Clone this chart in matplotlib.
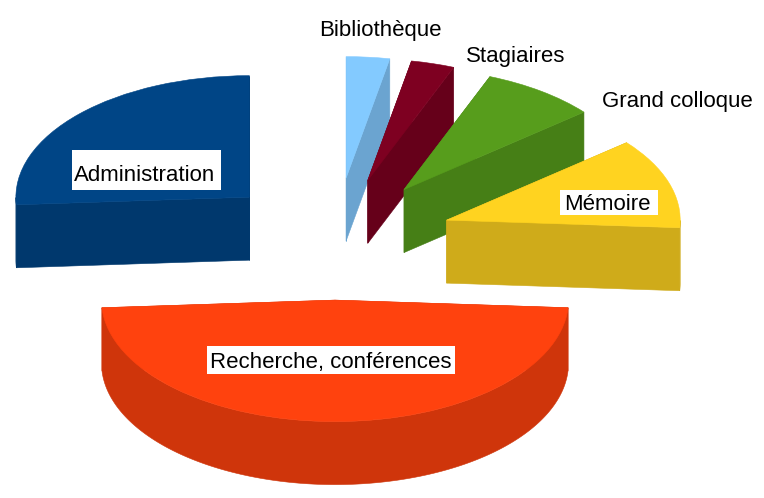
import numpy as np
import matplotlib
matplotlib.use("Agg")
import matplotlib.pyplot as plt
from matplotlib.patches import Rectangle
from matplotlib.transforms import Affine2D

plt.rcParams['font.family'] = ['Liberation Sans', 'DejaVu Sans']

# Shares (percent), clockwise from 12 o'clock
categories = ['Bibliothèque', 'Stagiaires', 'Grand colloque', 'Mémoire',
              'Recherche, conférences', 'Administration']
shares = [3.0, 3.0, 8.0, 12.0, 48.0, 26.0]

top_colors = ['#83caff', '#7e0021', '#579d1c', '#ffd320', '#ff420e', '#004586']
side_colors = ['#6ba4d0', '#66001a', '#467f16', '#cfab1a', '#cf350b', '#00386d']

# Back to front drawing order
draw_order = [0, 1, 2, 5, 3, 4]

W, H = 764, 498
cx, cy = 335, 239      # pie centre, pixels
rx, ry = 233.5, 121.5  # ellipse radii, pixels
depth = 63 / ry        # wall height in data units
explode = 0.503

fig = plt.figure(figsize=(W / 100, H / 100), dpi=100)
ax = fig.add_axes([0, 0, 1, 1])

wedges, _ = ax.pie(shares, explode=[explode] * len(shares), startangle=90,
                   counterclock=False, colors=top_colors,
                   wedgeprops=dict(linewidth=0.4))
# One data unit is rx pixels across and ry pixels down, this squashes the pie
ax.set_aspect('auto')
ax.set_xlim(-cx / rx, (W - cx) / rx)
ax.set_ylim(-(H - cy) / ry, cy / ry)
ax.set_axis_off()

for rank, i in enumerate(draw_order):
    w = wedges[i]
    w.set_edgecolor(top_colors[i])
    w.set_zorder(2 * rank + 2)
    x0, y0 = w.center
    side = dict(facecolor=side_colors[i], edgecolor=side_colors[i],
                linewidth=0.4, zorder=2 * rank + 1)
    # the two cut faces
    for a in (w.theta1, w.theta2):
        ex = x0 + np.cos(np.radians(a))
        ey = y0 + np.sin(np.radians(a))
        ax.fill([x0, ex, ex, x0], [y0, ey, ey - depth, y0 - depth], **side)
    # the outer wall, only where it faces the viewer
    t = np.radians(np.linspace(w.theta1, w.theta2, 300))
    t = t[np.sin(t) < 0]
    if len(t) > 1:
        ax_x = x0 + np.cos(t)
        ax_y = y0 + np.sin(t)
        ax.fill(np.r_[ax_x, ax_x[::-1]], np.r_[ax_y, ax_y[::-1] - depth], **side)

# Labels and their white boxes are placed in pixels, y going down
px = Affine2D().scale(1, -1).translate(0, H)
label_xy = [(319.5, 36), (466, 61.5), (602.5, 107), (564.5, 210), (209.5, 368), (74, 181)]
label_boxes = [None, None, None, (560, 190, 98, 25), (207, 346, 248, 28), (72, 150, 149, 40)]

for name, (lx, ly), box in zip(categories, label_xy, label_boxes):
    if box is not None:
        ax.add_patch(Rectangle((box[0], box[1]), box[2], box[3], facecolor='white',
                               edgecolor='none', transform=px, zorder=30))
    ax.text(lx, ly, name, transform=px, fontsize=16, color='black',
            ha='left', va='baseline', zorder=31)

fig.savefig('out.png', dpi=100)
